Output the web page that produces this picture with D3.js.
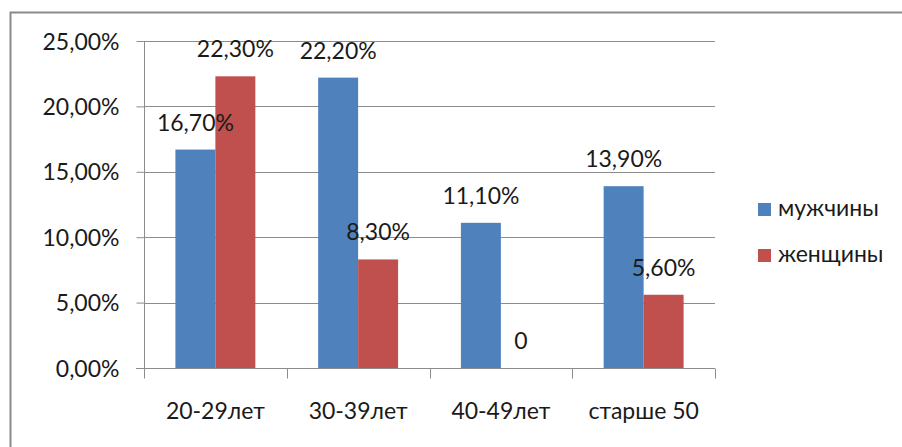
<!DOCTYPE html>
<html>
<head>
<meta charset="utf-8">
<script src="https://cdn.jsdelivr.net/npm/d3@7"></script>
<style>
  html, body { margin: 0; padding: 0; background: #fff; }
  svg { display: block; }
  text { font-family: Lato, "Open Sans", sans-serif; fill: #1a1a1a; }
</style>
</head>
<body>
<svg id="chart" width="902" height="447"></svg>
<script>
// Age groups and the share of respondents in each, by sex
const categories = ["20-29лет", "30-39лет", "40-49лет", "старше 50"];
const seriesNames = ["мужчины", "женщины"];
const men = [0.167, 0.222, 0.111, 0.139];
const women = [0.223, 0.083, 0, 0.056];
const yTicks = [0, 0.05, 0.10, 0.15, 0.20, 0.25];
const colors = ["#4F81BD", "#C0504D"];

const svg = d3.select("#chart");
const W = 902, H = 447;
const plot = { left: 144, right: 715, top: 41, bottom: 368 };
const fontSize = 23;

// Frame around the chart area (runs past the right and bottom edges)
svg.append("rect")
  .attr("x", 10.5).attr("y", 12.5)
  .attr("width", W + 20).attr("height", H + 20)
  .attr("fill", "none").attr("stroke", "#8a8a8a").attr("stroke-width", 2);

const x0 = d3.scaleBand().domain(categories).range([plot.left, plot.right]).paddingInner(0).paddingOuter(0);
const groupW = x0.bandwidth() * 0.56;
const x1 = d3.scaleBand().domain(seriesNames).range([0, groupW]);
const y = d3.scaleLinear().domain([0, 0.25]).range([plot.bottom, plot.top]);

const fmt = v => v === 0 ? "0" : (v * 100).toFixed(2).replace(".", ",") + "%";

// Horizontal gridlines
svg.append("g").selectAll("line").data(yTicks.filter(t => t > 0)).join("line")
  .attr("x1", plot.left).attr("x2", plot.right)
  .attr("y1", d => Math.round(y(d)) + 0.5).attr("y2", d => Math.round(y(d)) + 0.5)
  .attr("stroke", "#8c8c8c").attr("stroke-width", 1);

// Bars
const rows = categories.map((c, i) => ({ cat: c, vals: [men[i], women[i]] }));
const groups = svg.append("g").selectAll("g").data(rows).join("g")
  .attr("transform", d => `translate(${x0(d.cat) + (x0.bandwidth() - groupW) / 2},0)`);

groups.selectAll("rect").data(d => d.vals.map((v, k) => ({ v, k }))).join("rect")
  .attr("x", d => x1(seriesNames[d.k]))
  .attr("width", x1.bandwidth())
  .attr("y", d => y(d.v))
  .attr("height", d => plot.bottom - y(d.v))
  .attr("fill", d => colors[d.k]);

// Y axis
const yAxis = d3.axisLeft(y).tickValues(yTicks).tickSize(8).tickPadding(17)
  .tickFormat(d => (d * 100).toFixed(2).replace(".", ",") + "%");
const gy = svg.append("g").attr("transform", `translate(${plot.left + 0.5},0)`).call(yAxis);
gy.select(".domain").attr("stroke", "#8c8c8c").attr("d", `M0,${plot.top}V${plot.bottom}`);
gy.selectAll(".tick line").attr("stroke", "#8c8c8c");
gy.selectAll(".tick text").attr("font-size", fontSize).attr("font-family", "Lato, sans-serif")
  .attr("fill", "#1a1a1a").attr("dy", "0.35em");

// X axis
const gx = svg.append("g").attr("transform", `translate(0,${plot.bottom + 0.5})`);
gx.append("line").attr("x1", plot.left - 8).attr("x2", plot.right)
  .attr("stroke", "#8c8c8c");
const bounds = categories.map(c => x0(c)).concat([plot.right]);
gx.selectAll("line.tk").data(bounds).join("line").attr("class", "tk")
  .attr("x1", d => Math.round(d) + 0.5).attr("x2", d => Math.round(d) + 0.5)
  .attr("y1", 0).attr("y2", 10).attr("stroke", "#8c8c8c");
gx.selectAll("text").data(categories).join("text")
  .attr("x", d => x0(d) + x0.bandwidth() / 2)
  .attr("y", 50)
  .attr("text-anchor", "middle").attr("font-size", fontSize)
  .text(d => d);

// Value labels
groups.selectAll("text").data(d => d.vals.map((v, k) => ({ v, k }))).join("text")
  .attr("x", d => x1(seriesNames[d.k]) + x1.bandwidth() / 2)
  .attr("y", d => y(d.v) - 19)
  .attr("text-anchor", "middle").attr("font-size", fontSize)
  .text(d => fmt(d.v));

// Legend
const lg = svg.append("g").selectAll("g").data(seriesNames).join("g")
  .attr("transform", (d, i) => `translate(758,${203 + i * 46})`);
lg.append("rect").attr("width", 13).attr("height", 13).attr("fill", (d, i) => colors[i]);
lg.append("text").attr("x", 20).attr("y", 13).attr("font-size", fontSize).text(d => d);
</script>
</body>
</html>
